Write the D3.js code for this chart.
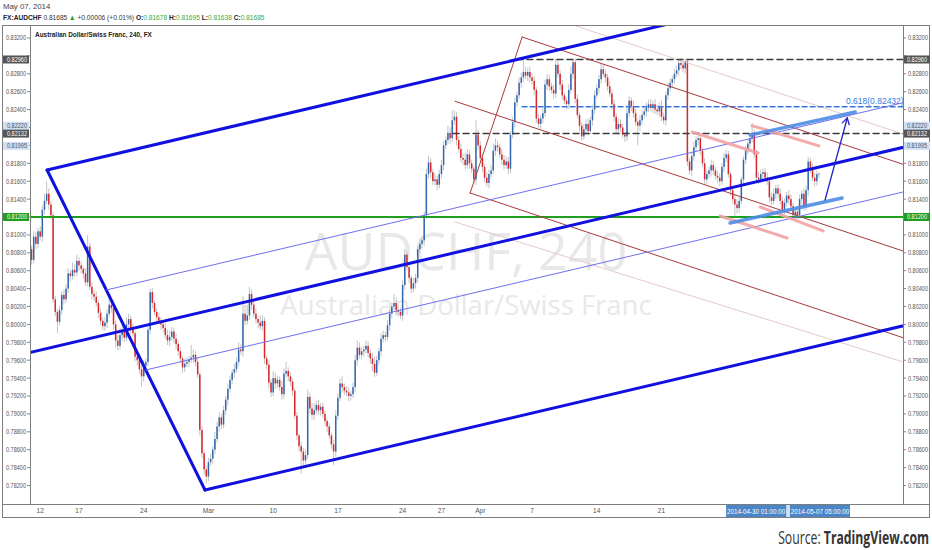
<!DOCTYPE html>
<html><head><meta charset="utf-8">
<script src="https://cdn.jsdelivr.net/npm/d3@7"></script>
<style>body{margin:0;background:#fff;}svg{display:block;font-family:"Liberation Sans",Arial,sans-serif;}</style>
</head><body><svg id="c" width="932" height="550"></svg>
<script>
// ---------- DATA (4H bars, index 0 = Mon 17 Feb 2014 first bar) ----------
const firstBar = -22;
const firstOpen = 8084; // pips (x1e-4)
const closes = [
8072,8098,8090,8104,8098,8128,8138,8146,8134,8122,
8028,8014,8003,8016,8033,8028,8040,8057,8054,8061,
8058,8071,8066,8062,8057,8047,8087,8042,8034,8031,
8024,8013,8004,7998,8002,8012,8022,8018,8000,7982,
7976,7988,7992,7985,8000,8006,7996,7990,7964,7960,
7950,7942,7954,7958,7994,8036,8024,8014,8008,8004,
8000,7996,7988,7982,7986,7992,7984,7978,7970,7962,
7952,7956,7958,7961,7963,7966,7958,7944,7882,7856,
7838,7830,7846,7850,7860,7872,7886,7896,7888,7904,
7916,7928,7938,7946,7950,7958,7972,7970,8012,8004,
8010,8034,8022,8012,8006,8002,7998,8004,7962,7955,
7935,7924,7940,7934,7938,7930,7922,7945,7948,7942,
7936,7926,7898,7876,7864,7858,7848,7854,7919,7906,
7899,7904,7910,7904,7908,7900,7892,7886,7876,7866,
7858,7898,7918,7934,7930,7926,7924,7920,7922,7930,
7960,7974,7966,7970,7972,7976,7968,7962,7956,7946,
7960,7970,7984,7988,7986,7999,8012,8020,8024,8016,
8014,8010,8044,8078,8064,8052,8040,8046,8052,8084,
8090,8094,8122,8168,8181,8170,8160,8162,8156,8168,
8178,8200,8206,8214,8208,8228,8232,8206,8196,8186,
8184,8178,8190,8180,8174,8162,8212,8200,8186,8176,
8164,8158,8168,8172,8194,8200,8198,8190,8184,8178,
8182,8174,8212,8226,8248,8256,8270,8276,8282,8278,
8282,8276,8272,8262,8230,8224,8230,8236,8268,8274,
8266,8262,8258,8290,8280,8268,8256,8250,8246,8262,
8280,8293,8252,8234,8222,8210,8218,8224,8216,8228,
8240,8256,8264,8274,8285,8280,8276,8266,8258,8246,
8232,8218,8224,8220,8212,8210,8236,8250,8244,8236,
8226,8222,8228,8234,8238,8242,8246,8242,8246,8240,
8238,8244,8232,8228,8256,8264,8270,8274,8280,8284,
8292,8290,8286,8294,8182,8172,8188,8198,8206,8208,
8194,8180,8162,8168,8172,8178,8172,8166,8164,8160,
8176,8186,8190,8168,8150,8140,8134,8130,8138,8162,
8184,8194,8202,8208,8214,8190,8164,8162,8168,8170,
8164,8160,8142,8138,8146,8152,8146,8138,8128,8136,
8144,8140,8132,8122,8126,8122,8140,8146,8132,8150,
8182,8174,8164,8160,8167.8,8168.5];
const wickUp = [
4,6,5,4,6,5,8,14,6,4, 3,4,3,5,4,6,5,6,4,8, 6,7,4,5,3,6,13,4,5,4, 6,3,5,4,6,5,8,4,3,4,
6,8,7,5,8,6,4,5,3,4, 3,4,6,4,3,4,5,3,4,5, 4,3,5,6,7,5,4,6,3,4, 3,6,5,4,14,6,4,5,3,4,
3,4,5,6,4,8,5,6,4,5, 4,6,5,4,6,5,8,6,20,10, 12,8,5,4,6,3,8,6,4,3, 5,4,8,6,5,4,7,6,10,4,
5,4,3,4,2,5,4,6,8,5, 6,8,5,6,4,5,4,3,4,3, 5,6,5,6,8,4,5,6,4,5, 6,8,6,5,4,6,5,4,6,8,
5,4,6,5,4,6,5,4,10,6, 5,4,5,6,4,5,3,6,5,4, 6,5,4,6,8,5,4,6,4,5, 6,5,4,8,6,11,7,5,4,6,
5,8,6,5,4,3,16,6,5,4, 3,6,5,6,8,8,5,4,6,5, 6,5,4,6,5,4,6,5,13,6, 5,6,4,5,3,5,4,6,5,6,
5,4,6,7,5,4,5,3,4,6, 8,3,4,5,3,4,6,5,6,4, 5,6,4,5,7,6,5,4,6,4, 5,4,6,5,4,3,6,5,4,6,
5,4,6,5,4,6,5,6,4,6, 5,4,6,5,4,6,5,4,6,5, 4,5,4,3,2,4,5,6,4,7, 5,4,6,5,4,6,5,4,6,5,
4,6,5,4,3,4,5,6,4,3, 4,5,4,5,11,4,5,6,5,4, 5,6,4,5,6,4,5,6,4,5, 4,6,5,4,5,6,5,4,6,5,
5,4,6,5,4,1];
const wickDn = [
5,4,6,5,4,6,5,4,6,5, 4,5,13,4,5,6,4,5,6,4, 5,4,6,5,6,4,5,4,6,5, 4,6,5,4,5,6,4,5,6,8,
5,4,6,5,4,5,6,4,5,6, 5,12,6,5,4,5,6,4,5,4, 6,5,4,5,6,4,5,6,5,4, 6,5,4,5,4,6,5,4,6,5,
6,8,5,4,6,5,4,6,5,4, 5,6,4,5,6,4,5,4,6,5, 4,5,6,4,5,6,4,5,6,5, 6,5,4,6,5,4,6,5,4,6,
5,6,4,5,6,25,8,5,4,6, 5,6,4,5,6,4,5,6,4,5, 15,6,5,4,6,5,4,6,5,4, 5,6,4,5,6,4,5,6,8,5,
4,5,6,4,5,4,6,5,4,6, 5,4,6,5,4,6,5,4,6,5, 4,5,6,4,5,6,4,5,6,4, 5,6,4,5,6,4,5,6,4,5,
6,5,4,6,5,4,6,5,4,6, 5,4,6,5,4,6,5,4,6,5, 4,6,5,4,6,5,4,6,5,4, 6,5,4,6,5,4,6,5,4,6,
5,4,6,5,4,6,5,4,6,5, 4,6,5,4,6,5,4,6,5,4, 6,5,4,6,5,4,6,5,4,6, 5,4,6,5,4,6,5,4,6,5,
4,22,6,5,4,6,5,4,6,5, 4,6,5,4,6,5,4,6,5,4, 6,5,4,6,5,5,6,5,4,6, 5,4,6,5,4,6,5,4,6,5,
4,6,5,4,6,5,13,6,5,4, 6,5,4,6,5,4,6,5,4,6, 5,4,6,5,4,6,5,4,6,5, 4,6,5,4,6,5,4,6,5,4,
6,5,4,6,5,4];
const priceTicks = [0.782,0.784,0.786,0.788,0.790,0.792,0.794,0.796,0.798,0.800,0.802,0.804,0.806,0.808,0.810,0.812,0.814,0.816,0.818,0.820,0.822,0.824,0.826,0.828,0.830,0.832];
const timeTicks = [[-18,"12"],[0,"17"],[30,"24"],[60,"Mar"],[90,"10"],[120,"17"],[150,"24"],[168,"27"],[186,"Apr"],[210,"7"],[240,"14"],[270,"21"]];
// drawings: (bar, price)
const blueFork = {p1:[-60,0.79474], p2:[-14.8,0.81725], p3:[58.4,0.78150]};
const redFork  = {p1:[174.3,0.82493], p2:[205.4,0.83211], p3:[181.3,0.81468]};
const hLevels = [ // [fromBar, price, kind]
  [203,0.82960,"dark"],[173.4,0.82132,"dark"],[205.4,0.82432,"fib"],[-40,0.81200,"green"]];
const faintLines = [[229,0.83345,382,0.82127],[174.3,0.81144,382,0.79580]];
const lightBlueSegs = [[311.1,0.82116,359.8,0.82373],[301.8,0.81133,353.7,0.81412]];
const salmonSegs = [[284.2,0.82150,314.8,0.81915],[312,0.82220,343,0.81995],[297.2,0.81211,328.2,0.80965],[315.7,0.81312,344.9,0.81044]];
const arrowSeg = [345.8,0.81390,356.1,0.82306];
const rangeLabels = [[312,"2014-04-30 01:00:00"],[343,"2014-05-07 05:00:00"]];

// ---------- LAYOUT ----------
const svg = d3.select("#c");
const L=30, R=903, T=25, B=504;
const x = d3.scaleLinear().domain([0,343]).range([79,819]);
const y = d3.scaleLinear().domain([0.812,0.832]).range([217,38]);
const fmt = d3.format(".5f");

svg.append("defs").append("clipPath").attr("id","clip").append("rect").attr("x",L).attr("y",T).attr("width",R-L).attr("height",B-T);
const plot = svg.append("g").attr("clip-path","url(#clip)");

// watermark
plot.append("text").attr("x",466).attr("y",270).attr("text-anchor","middle").attr("font-size",52).attr("fill","#e8e8e8").attr("font-family","Open Sans, sans-serif").text("AUDCHF, 240");
plot.append("text").attr("x",466).attr("y",315).attr("text-anchor","middle").attr("font-size",27.5).attr("fill","#e8e8e8").attr("font-family","Open Sans, sans-serif").text("Australian Dollar/Swiss Franc");

// candles
const bars = closes.map((c,k)=>{
  const o = k===0?firstOpen:closes[k-1];
  return {i:firstBar+k,o:o/1e4,c:c/1e4,h:(Math.max(o,c)+wickUp[k])/1e4,l:(Math.min(o,c)-wickDn[k])/1e4};
});
bars[bars.length-1].o=0.81678; bars[bars.length-1].h=0.81695; bars[bars.length-1].l=0.81638; bars[bars.length-1].c=0.81685;
const cg = plot.append("g");
cg.selectAll("line").data(bars).join("line")
 .attr("x1",d=>x(d.i)).attr("x2",d=>x(d.i)).attr("y1",d=>y(d.h)).attr("y2",d=>y(d.l))
 .attr("stroke","#c4c4c4").attr("stroke-width",1);
cg.selectAll("rect").data(bars).join("rect")
 .attr("x",d=>x(d.i)-0.75).attr("width",1.5)
 .attr("y",d=>y(Math.max(d.o,d.c))).attr("height",d=>Math.max(0.8,Math.abs(y(d.o)-y(d.c))))
 .attr("fill",d=>d.c>=d.o?"#2f67b1":"#d8262b");

// helpers
const line = (g,a,b,st,w,dash,op)=>g.append("line").attr("x1",x(a[0])).attr("y1",y(a[1])).attr("x2",x(b[0])).attr("y2",y(b[1]))
  .attr("stroke",st).attr("stroke-width",w).attr("stroke-dasharray",dash||null).attr("opacity",op||1).attr("stroke-linecap","round");
const ext = (s,d,t)=>[s[0]+d[0]*t,s[1]+d[1]*t];
function fork(g,f,levels,styles){
  const m=[(f.p2[0]+f.p3[0])/2,(f.p2[1]+f.p3[1])/2];
  const d=[m[0]-f.p1[0],m[1]-f.p1[1]];
  const t=(420-f.p1[0])/d[0];
  line(g,f.p2,f.p3,styles.handle[0],styles.handle[1]);
  line(g,f.p1,ext(f.p1,d,t),styles.median[0],styles.median[1]);
  levels.forEach(([k,st,w])=>{
    const s=[m[0]+k*(f.p2[0]-m[0]), m[1]+k*(f.p2[1]-m[1])];
    const tt=(420-s[0])/d[0];
    line(g,s,ext(s,d,tt),st,w);
  });
}
const dg = plot.append("g");
faintLines.forEach(s=>line(dg,[s[0],s[1]],[s[2],s[3]],"#e6caca",1));
hLevels.forEach(([b,p,k])=>{
  if(k==="green") line(dg,[b,p],[420,p],"#1f9e1f",2);
  else if(k==="dark") line(dg,[b,p],[420,p],"#3c3c3c",1.5,"6,4");
  else line(dg,[b,p],[420,p],"#3b78dc",1.3,"5,3");
});
dg.append("text").attr("x",846).attr("y",y(0.82432)-3).attr("font-size",8.5).attr("fill","#3b78dc").text("0.618(0.82432)");
fork(dg,redFork,[[1,"#a8393c",1],[-1,"#a8393c",1]],{handle:["#a8393c",1],median:["#a8393c",1]});
fork(dg,blueFork,[[1,"#1010e0",3],[-1,"#1010e0",3],[0.25,"#6f6ff2",1],[-0.25,"#6f6ff2",1]],{handle:["#1010e0",3],median:["#1010e0",3]});
salmonSegs.forEach(s=>line(dg,[s[0],s[1]],[s[2],s[3]],"#f2a2a2",3,null,0.9));
lightBlueSegs.forEach(s=>line(dg,[s[0],s[1]],[s[2],s[3]],"#4f8de6",3.5,null,0.9));
{
  const a=[x(arrowSeg[0]),y(arrowSeg[1])], b=[x(arrowSeg[2]),y(arrowSeg[3])];
  line(dg,[arrowSeg[0],arrowSeg[1]],[arrowSeg[2],arrowSeg[3]],"#2424c8",1.3);
  const ang=Math.atan2(b[1]-a[1],b[0]-a[0]);
  [ang+2.6,ang-2.6].forEach(q=>dg.append("line").attr("x1",b[0]).attr("y1",b[1]).attr("x2",b[0]+7*Math.cos(q)).attr("y2",b[1]+7*Math.sin(q)).attr("stroke","#2424c8").attr("stroke-width",1.3).attr("stroke-linecap","round"));
}

// ---------- frame & axes ----------
const frame = svg.append("g").attr("fill","none").attr("stroke","#7d7d7d").attr("stroke-width",1);
frame.append("rect").attr("x",2.5).attr("y",T+0.5).attr("width",927).attr("height",517-T);
frame.append("line").attr("x1",L+0.5).attr("x2",L+0.5).attr("y1",T).attr("y2",B);
frame.append("line").attr("x1",R+0.5).attr("x2",R+0.5).attr("y1",T).attr("y2",B);
frame.append("line").attr("x1",2).attr("x2",930).attr("y1",B+0.5).attr("y2",B+0.5);

const special = [[0.82220,"#cfe0f6","#555"],[0.81995,"#cfe0f6","#555"],[0.82960,"#555","#fff"],[0.82132,"#555","#fff"],[0.81200,"#1f9e1f","#fff"]];
const axR = svg.append("g"), axL = svg.append("g");
const axText = (g,xx,yy,anc,col,txt,fs)=>g.append("text").attr("x",xx).attr("y",yy).attr("text-anchor",anc).attr("font-size",fs||6.8).attr("fill",col)
   .attr("textLength",20).attr("lengthAdjust","spacingAndGlyphs").text(txt);
priceTicks.forEach(p=>{
  const hidden = special.some(s=>Math.abs(y(s[0])-y(p))<8);
  axR.append("line").attr("x1",R).attr("x2",R+3).attr("y1",y(p)).attr("y2",y(p)).attr("stroke","#888");
  axL.append("line").attr("x1",L-3).attr("x2",L).attr("y1",y(p)).attr("y2",y(p)).attr("stroke","#888");
  if(hidden) return;
  axText(axR,R+5,y(p)+2.4,"start","#555",fmt(p));
  axText(axL,L-4,y(p)+2.4,"end","#555",fmt(p));
});
special.forEach(([p,bg,fg])=>{
  [[R+1,"start",R+4],[3,"end",L-3]].forEach(([bx,anc,tx])=>{
    svg.append("rect").attr("x",bx).attr("y",y(p)-4).attr("width",26).attr("height",8).attr("fill",bg);
    axText(svg,tx,y(p)+2.3,anc,fg,fmt(p),6.5);
  });
});

// time axis
timeTicks.forEach(([b,l])=>svg.append("text").attr("x",x(b)).attr("y",B+9).attr("text-anchor","middle").attr("font-size",6.6).attr("fill","#555").text(l));
svg.append("rect").attr("x",x(rangeLabels[0][0])+4).attr("y",B+1).attr("width",x(rangeLabels[1][0])-x(rangeLabels[0][0])-4).attr("height",12).attr("fill","#cfe0f6");
rangeLabels.forEach(([b,l],k)=>{
  const cx = x(b)+(k===0?4:1);
  svg.append("rect").attr("x",cx-30).attr("y",B+1).attr("width",60).attr("height",12).attr("fill","#4c86c6");
  svg.append("text").attr("x",cx).attr("y",B+9.5).attr("text-anchor","middle").attr("font-size",6.3).attr("fill","#fff").text(l);
});

// horizontally squeezed text (keeps glyph height, fits a measured width)
function squeezed(xx,yy,anchor,width,fs,parts,family){
  const g = svg.append("g");
  const t = g.append("text").attr("font-size",fs).attr("text-anchor",anchor).attr("font-family",family||null);
  parts.forEach(([s,c,w])=>t.append("tspan").attr("fill",c).attr("font-weight",w||null).text(s));
  const nat = t.node().getComputedTextLength();
  g.attr("transform",`translate(${xx},${yy}) scale(${Math.min(1,width/nat)},1)`);
}
svg.append("text").attr("x",3).attr("y",9).attr("font-size",7.8).attr("fill","#444").text("May 07, 2014");
squeezed(3,19.5,"start",262,7.6,[["FX:AUDCHF ","#222","bold"],["0.81685 ","#333"],["▲ ","#2ca02c"],["+0.00006 (+0.01%) ","#333"],["O:","#222","bold"],["0.81678 ","#3aaa3a"],["H:","#222","bold"],["0.81695 ","#3aaa3a"],["L:","#222","bold"],["0.81638 ","#3aaa3a"],["C:","#222","bold"],["0.81685","#3aaa3a"]]);
squeezed(35,37,"start",117,7.6,[["Australian Dollar/Swiss Franc, 240, FX","#222","bold"]]);
squeezed(929,544,"end",151,18,[["Source: ","#333"],["TradingView.com","#333","bold"]],"Open Sans, sans-serif");
</script></body></html>
